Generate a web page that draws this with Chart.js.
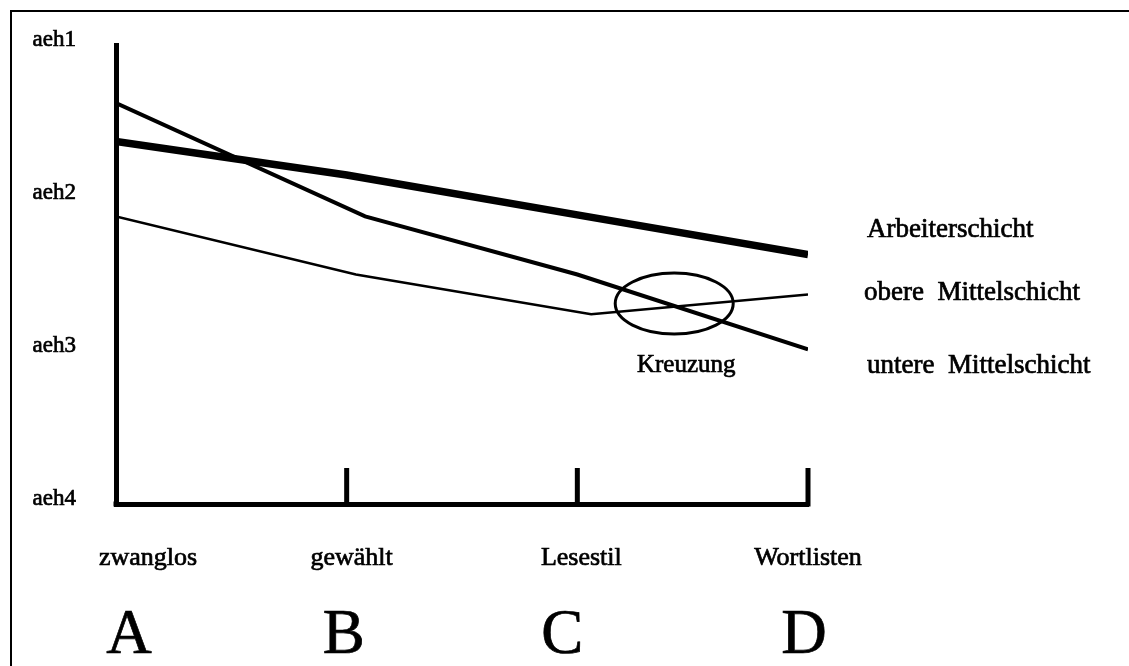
<!DOCTYPE html>
<html lang="de">
<head>
<meta charset="utf-8">
<title>Kreuzung</title>
<script src="https://cdn.jsdelivr.net/npm/chart.js@4.4.1/dist/chart.umd.min.js"></script>
<style>
  html, body { margin: 0; padding: 0; background: #fff; }
  #wrap { position: relative; width: 1129px; height: 666px; }
</style>
</head>
<body>
<div id="wrap"><canvas id="chart"></canvas></div>
<script>
// Stilebenen (x-Achse) und ihre Kennbuchstaben
const styleNames = ['zwanglos', 'gewählt', 'Lesestil', 'Wortlisten'];
const styleLetters = ['A', 'B', 'C', 'D'];
// Stufen auf der y-Achse, aeh1 oben
const levelLabels = ['aeh1', 'aeh2', 'aeh3', 'aeh4'];

// Arbeiterschicht
const arbeiterX = [0, 1, 2, 3];
const arbeiterY = [1.63, 1.85, 2.11, 2.37];
// untere Mittelschicht
const untereX = [0, 1.08, 2.0, 3];
const untereY = [1.38, 2.12, 2.50, 2.99];
// obere Mittelschicht
const obereX = [0, 1.04, 2.06, 3];
const obereY = [2.12, 2.50, 2.76, 2.63];

// Kreuzungspunkt untere / obere Mittelschicht
const crossX = 2.42;
const crossY = 2.69;

const SERIF = '"Liberation Serif", "Times New Roman", serif';

function toPoints(xs, ys) {
    return xs.map((x, i) => ({ x: x, y: ys[i] }));
}

// Text etwas kräftiger, wie im Original
function heavyText(ctx, text, x, y) {
    ctx.fillText(text, x, y);
    ctx.strokeText(text, x, y);
}

/**
 * Rahmen, Achsenstriche, Beschriftungen und Ellipse
 */
const decorations = {
    id: 'decorations',
    afterDraw(chart) {
        const { ctx, chartArea } = chart;
        const xs = chart.scales.x;
        const ys = chart.scales.y;
        ctx.save();
        ctx.strokeStyle = '#000';
        ctx.fillStyle = '#000';

        // Rahmen oben / links
        ctx.lineWidth = 2;
        ctx.beginPath();
        ctx.moveTo(11, 666);
        ctx.lineTo(11, 11);
        ctx.lineTo(1129, 11);
        ctx.stroke();

        // Striche bei B, C, D
        ctx.lineWidth = 5;
        for (let i = 1; i < styleNames.length; i++) {
            const px = xs.getPixelForValue(i);
            ctx.beginPath();
            ctx.moveTo(px, chartArea.bottom + 2.5);
            ctx.lineTo(px, chartArea.bottom - 36);
            ctx.stroke();
        }
        ctx.fillRect(chartArea.left - 2.5, chartArea.bottom - 2.5, 5, 5);

        // Stilnamen und Buchstaben
        const nameShift = [32, 5, 4, 0];
        const letterShift = [13, -3, -15, -4];
        ctx.textAlign = 'center';
        ctx.textBaseline = 'alphabetic';
        ctx.lineWidth = 0.7;
        styleNames.forEach((name, i) => {
            const px = xs.getPixelForValue(i);
            ctx.font = '26px ' + SERIF;
            heavyText(ctx, name, px + nameShift[i], 565);
            ctx.font = '63px ' + SERIF;
            heavyText(ctx, styleLetters[i], px + letterShift[i], 653);
        });

        // Gruppennamen rechts
        ctx.textAlign = 'left';
        ctx.font = '27px ' + SERIF;
        const lx = chartArea.right + 59;
        heavyText(ctx, 'Arbeiterschicht', lx, 237);
        heavyText(ctx, 'obere  Mittelschicht', lx - 3, 300);
        heavyText(ctx, 'untere  Mittelschicht', lx, 373);

        // Ellipse um die Kreuzung
        const cx = xs.getPixelForValue(crossX);
        const cy = ys.getPixelForValue(crossY);
        ctx.lineWidth = 3;
        ctx.beginPath();
        ctx.ellipse(cx, cy, 59, 30.5, 0, 0, Math.PI * 2);
        ctx.stroke();
        ctx.textAlign = 'center';
        ctx.font = '25px ' + SERIF;
        ctx.lineWidth = 0.7;
        heavyText(ctx, 'Kreuzung', cx + 12, 372);

        ctx.restore();
    }
};

const lineStyle = {
    borderColor: '#000',
    pointRadius: 0,
    pointHoverRadius: 0,
    tension: 0,
    fill: false,
    borderCapStyle: 'butt',
    borderJoinStyle: 'miter'
};

new Chart(document.getElementById('chart'), {
    type: 'line',
    data: {
        datasets: [
            Object.assign({ label: 'Arbeiterschicht', data: toPoints(arbeiterX, arbeiterY), borderWidth: 7.5 }, lineStyle),
            Object.assign({ label: 'untere Mittelschicht', data: toPoints(untereX, untereY), borderWidth: 4 }, lineStyle),
            Object.assign({ label: 'obere Mittelschicht', data: toPoints(obereX, obereY), borderWidth: 2.5 }, lineStyle)
        ]
    },
    options: {
        responsive: true,
        maintainAspectRatio: false,
        animation: false,
        events: [],
        layout: { padding: { top: 45, right: 321, left: 0, bottom: 0 } },
        plugins: {
            legend: { display: false },
            tooltip: { enabled: false }
        },
        scales: {
            x: {
                type: 'linear',
                min: 0,
                max: 3,
                grid: { display: true, drawOnChartArea: false, drawTicks: false },
                border: { display: true, color: '#000', width: 5 },
                ticks: { display: false },
                afterFit: function(scale) { scale.height = 162; }
            },
            y: {
                type: 'linear',
                reverse: true,
                min: 1,
                max: 4,
                grid: { display: true, drawOnChartArea: false, drawTicks: false },
                border: { display: true, color: '#000', width: 5 },
                afterBuildTicks: function(scale) {
                    scale.ticks = levelLabels.map((_, i) => ({ value: i + 1 }));
                },
                ticks: {
                    color: '#000',
                    padding: 40,
                    labelOffset: -5,
                    textStrokeColor: '#000',
                    textStrokeWidth: 0.7,
                    font: { family: SERIF, size: 23 },
                    callback: function(value) {
                        return levelLabels[value - 1];
                    }
                },
                afterFit: function(scale) {
                    scale.width = 116;
                    scale.paddingTop = 0;
                    scale.paddingBottom = 0;
                }
            }
        }
    },
    plugins: [decorations]
});
</script>
</body>
</html>
